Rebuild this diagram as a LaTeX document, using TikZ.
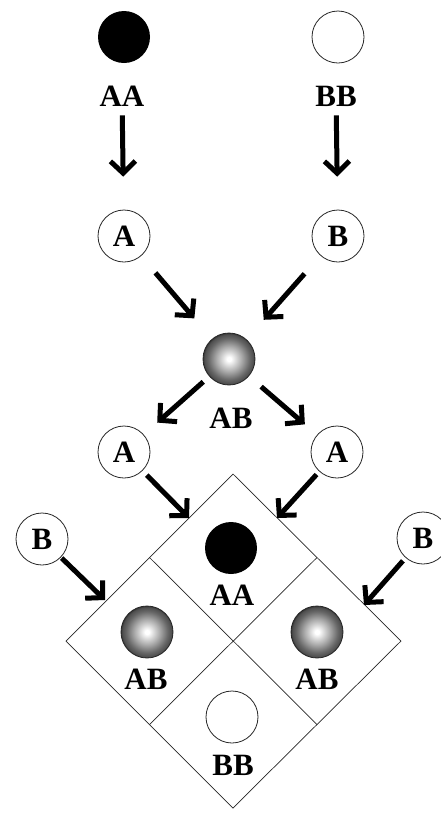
\documentclass[tikz,border=0pt]{standalone}
\usepackage{fontspec}
\setmainfont{Liberation Serif}
\usetikzlibrary{arrows.meta,calc}
\pgfdeclareradialshading{hetball}{\pgfpoint{0bp}{0bp}}{color(0bp)=(white); color(2bp)=(white); color(12bp)=(gray!65); color(20bp)=(gray!80!black); color(24bp)=(black!70); color(25bp)=(black!80); color(50bp)=(black)}
\begin{document}
\begin{tikzpicture}[x=1pt,y=-1pt,
  every node/.style={font=\fontsize{31}{33}\selectfont\bfseries},
  allele/.style={circle,draw=black!85,line width=0.8pt,fill=white,minimum size=52pt,inner sep=0pt},
  blackball/.style={circle,fill=black,minimum size=52pt,inner sep=0pt},
  whiteball/.style={circle,draw=black!85,line width=0.8pt,fill=white,minimum size=52pt,inner sep=0pt},
  hetero/.style={circle,shade,shading=hetball,draw=black!85,line width=0.8pt,minimum size=52pt,inner sep=0pt},
  lbl/.style={inner sep=0pt},
  arr/.style={line width=5pt,-{Straight Barb[length=12pt,width=25pt]}},
  gridline/.style={line width=0.7pt,draw=black!85}]
\useasboundingbox (0,0) rectangle (441,815);
% parents
\node[blackball] (pAA) at (124,37) {};
\node[whiteball] (pBB) at (338,37) {};
\node[lbl] (lpAA) at (122,96) {AA};
\node[lbl] (lpBB) at (336,96) {BB};
% gametes
\node[allele] (gA) at (124,236) {A};
\node[allele] (gB) at (338,236) {B};
\draw[arr,shorten <=9pt,shorten >=33pt] (lpAA) -- (gA);
\draw[arr,shorten <=9pt,shorten >=33pt] (lpBB) -- (gB);
% F1
\node[hetero] (f1) at (229,359) {};
\node[lbl] (lf1) at (231,418) {AB};
\draw[arr,shorten <=22pt,shorten >=27pt] (gA) -- (f1);
\draw[arr,shorten <=24pt,shorten >=26pt] (gB) -- (f1);
% F1 gametes
\node[allele] (gA2) at (124,452) {A};
\node[allele] (gA3) at (337,452) {A};
\node[allele] (gB2) at (42,539) {B};
\node[allele] (gB3) at (423,538) {B};
\draw[arr,shorten <=8pt,shorten >=18pt] (f1) -- (gA2);
\draw[arr,shorten <=16pt,shorten >=16pt] (f1) -- (gA3);
% grid
\coordinate (dT) at (233,474);
\coordinate (dL) at (66,641);
\coordinate (dR) at (401,641);
\coordinate (dB) at (233,808);
\draw[gridline] (dT) -- (dR) -- (dB) -- (dL) -- cycle;
\draw[gridline] ($(dT)!0.5!(dL)$) -- ($(dR)!0.5!(dB)$);
\draw[gridline] ($(dT)!0.5!(dR)$) -- ($(dL)!0.5!(dB)$);
\coordinate (t1) at (189,518);
\coordinate (t2) at (277,518);
\coordinate (t3) at (105,600);
\coordinate (t4) at (364,605);
\draw[arr,shorten <=6pt] (gA2) -- (t1);
\draw[arr,shorten <=4pt] (gA3) -- (t2);
\draw[arr,shorten <=1pt] (gB2) -- (t3);
\draw[arr,shorten <=4pt] (gB3) -- (t4);
% offspring
\node[blackball] (oAA) at (231,548) {};
\node[lbl] (loAA) at (232,595) {AA};
\node[hetero] (oAB1) at (147,632) {};
\node[lbl] (loAB1) at (146,679) {AB};
\node[hetero] (oAB2) at (317,632) {};
\node[lbl] (loAB2) at (317,679) {AB};
\node[whiteball] (oBB) at (232,717) {};
\node[lbl] (loBB) at (233,765) {BB};
\end{tikzpicture}
\end{document}
